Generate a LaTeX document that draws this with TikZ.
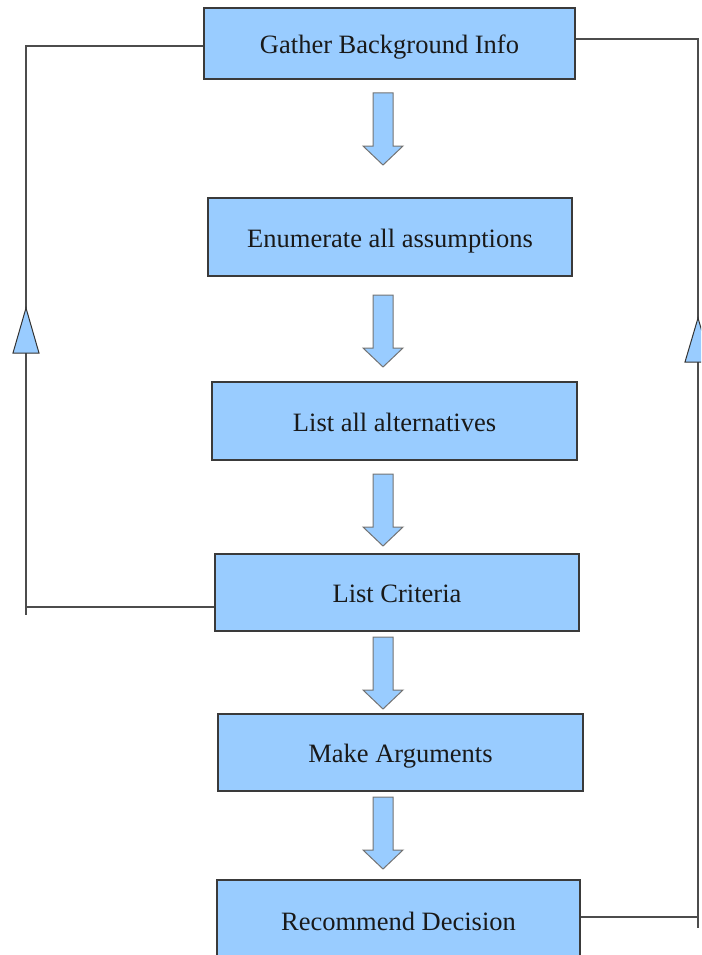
\documentclass[tikz,border=0pt]{standalone}
\usepackage{fontspec}
\setmainfont{Liberation Serif}
\usepackage{xcolor}
\usepackage{tikz}
\definecolor{boxblue}{HTML}{99CCFF}
\definecolor{edgegray}{HTML}{3A3A3A}
\tikzset{every picture/.style={x=1pt,y=-1pt},
  stepbox/.style={rectangle, draw=edgegray, line width=1.3pt, fill=boxblue,
    font=\fontsize{26.5}{30}\selectfont, text=black!90,
    text height=20pt, text depth=0pt,
    minimum width=364pt, minimum height=77pt},
  blockarrow/.style={draw=black!55, fill=boxblue, line width=1pt},
  loopline/.style={draw=black!70, line width=1.4pt},
  tri/.style={draw=black!80, fill=boxblue, line width=1pt}}

\begin{document}
\begin{tikzpicture}
        \useasboundingbox (0,0) rectangle (701,955);
        \clip (0,0) rectangle (701,955);

        \node[stepbox, minimum width=371pt, minimum height=71pt] (gather) at (389.5, 43.5) {Gather Background Info};
        \node[stepbox, minimum height=78pt] (enum) at (390, 237) {Enumerate all assumptions};
        \node[stepbox, minimum width=365pt, minimum height=78pt] (alts) at (394.5, 421) {List all alternatives};
        \node[stepbox] (crit) at (397, 592.5) {List Criteria};
        \node[stepbox, minimum width=365pt] (args) at (400.5, 752.5) {Make Arguments};
        \node[stepbox, minimum width=363pt, minimum height=80pt] (rec) at (398.5, 920) {Recommend Decision};

        % block arrows between the steps
        \foreach \t in {93, 295, 474, 637, 797}
        \draw[blockarrow] (373,\t) -- (393,\t) -- (393,\t+53) -- (403,\t+53)
          -- (383,\t+72) -- (363,\t+53) -- (373,\t+53) -- cycle;

        % feedback loops
        \coordinate (lt) at (26, 46);
        \coordinate (lb) at (26, 607);
        \coordinate (rt) at (698, 39);
        \coordinate (rb) at (698, 917);
        \draw[loopline] (crit.west |- lb) -- (lb) -- (lt) -- (gather.west |- lt);
        \draw[loopline] (lb) -- ++(0, 8);
        \draw[loopline] (rec.east |- rb) -- (rb) -- (rt) -- (gather.east |- rt);
        \draw[loopline] (rb) -- ++(0, 11);

        \draw[tri] (26, 308) -- (39, 353) -- (13, 353) -- cycle;
        \draw[tri] (698, 318) -- (711, 362) -- (685, 362) -- cycle;
      \end{tikzpicture}
\end{document}
